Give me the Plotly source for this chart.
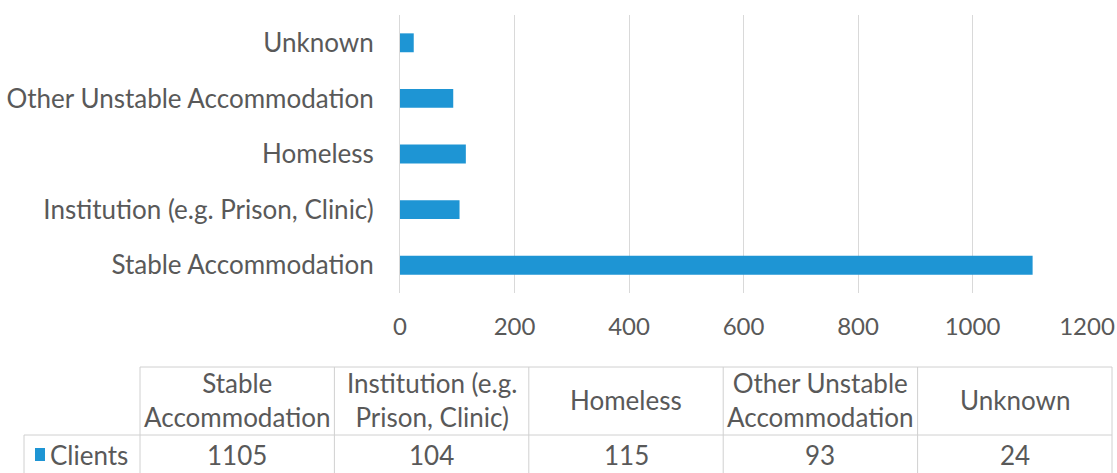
import plotly.graph_objects as go

# data
categories = [
    'Stable Accommodation',
    'Institution (e.g. Prison, Clinic)',
    'Homeless',
    'Other Unstable Accommodation',
    'Unknown',
]
table_headers = [
    ['Stable', 'Accommodation'],
    ['Institution (e.g.', 'Prison, Clinic)'],
    ['Homeless'],
    ['Other Unstable', 'Accommodation'],
    ['Unknown'],
]
series_name = 'Clients'
clients = [1105, 104, 115, 93, 24]
x_ticks = [0, 200, 400, 600, 800, 1000, 1200]

W, H = 1117, 473
BLUE = '#1E95D4'
GREY = '#595959'
GRID = '#D9D9D9'
LINE = '#D0D0D0'
FONT = 'Lato'
FSIZE = 26


def px_x(x):
    return x / W


def px_y(y):
    return 1 - y / H


fig = go.Figure()

fig.add_trace(
    go.Bar(
        x=clients,
        y=categories,
        orientation='h',
        marker=dict(color=BLUE, line=dict(width=0)),
        width=0.34,
        name=series_name,
        showlegend=False,
    )
)

# data table below the chart
col_left, col_right = 140, 1112
top, mid, bottom = 367, 435, 480
n = len(categories)
col_w = (col_right - col_left) / n
edges = [col_left + i * col_w for i in range(n + 1)]

shapes = []


def hline(x0, x1, y):
    shapes.append(dict(type='line', xref='paper', yref='paper',
                       x0=px_x(x0), x1=px_x(x1), y0=px_y(y), y1=px_y(y),
                       line=dict(color=LINE, width=1)))


def vline(x, y0, y1):
    shapes.append(dict(type='line', xref='paper', yref='paper',
                       x0=px_x(x), x1=px_x(x), y0=px_y(y0), y1=px_y(y1),
                       line=dict(color=LINE, width=1)))


hline(col_left, col_right, top)
hline(24, col_right, mid)
vline(24, mid, bottom)
for e in edges:
    vline(e, top, bottom)

# legend key square
shapes.append(dict(type='rect', xref='paper', yref='paper',
                   x0=px_x(35), x1=px_x(45), y0=px_y(461), y1=px_y(448),
                   fillcolor=BLUE, line=dict(width=0)))


def label(text, x, y, anchor='center'):
    return dict(text=text, x=px_x(x), y=px_y(y), xref='paper', yref='paper',
                xanchor=anchor, yanchor='middle', showarrow=False)


annotations = [label(series_name, 48, 455, 'left')]
for i in range(n):
    cx = (edges[i] + edges[i + 1]) / 2
    annotations.append(label('<br>'.join(table_headers[i]), cx, 400))
    annotations.append(label(str(clients[i]), cx, 455))

fig.update_layout(
    width=W,
    height=H,
    margin=dict(l=0, r=0, t=0, b=0, pad=0),
    paper_bgcolor='white',
    plot_bgcolor='white',
    font=dict(family=FONT, size=FSIZE, color=GREY),
    shapes=shapes,
    annotations=annotations,
    xaxis=dict(
        domain=[px_x(400), px_x(1087)],
        range=[0, 1200],
        tickvals=x_ticks,
        tickfont=dict(size=24),
        showgrid=True,
        gridcolor=GRID,
        gridwidth=1,
        zeroline=False,
        showline=False,
        ticks='',
        automargin=False,
        ticklabeloverflow='allow',
        ticklabelstandoff=17,
    ),
    yaxis=dict(
        domain=[px_y(293), px_y(15)],
        categoryorder='array',
        categoryarray=categories,
        showgrid=False,
        showline=True,
        linecolor=GRID,
        linewidth=1,
        ticks='',
        automargin=False,
        ticklabelstandoff=20,
    ),
)

# drop the default 8px page margin so the figure fills the window
fig.write_html('out.html',
               config={'displayModeBar': False},
               post_script="document.body.style.margin='0';")
